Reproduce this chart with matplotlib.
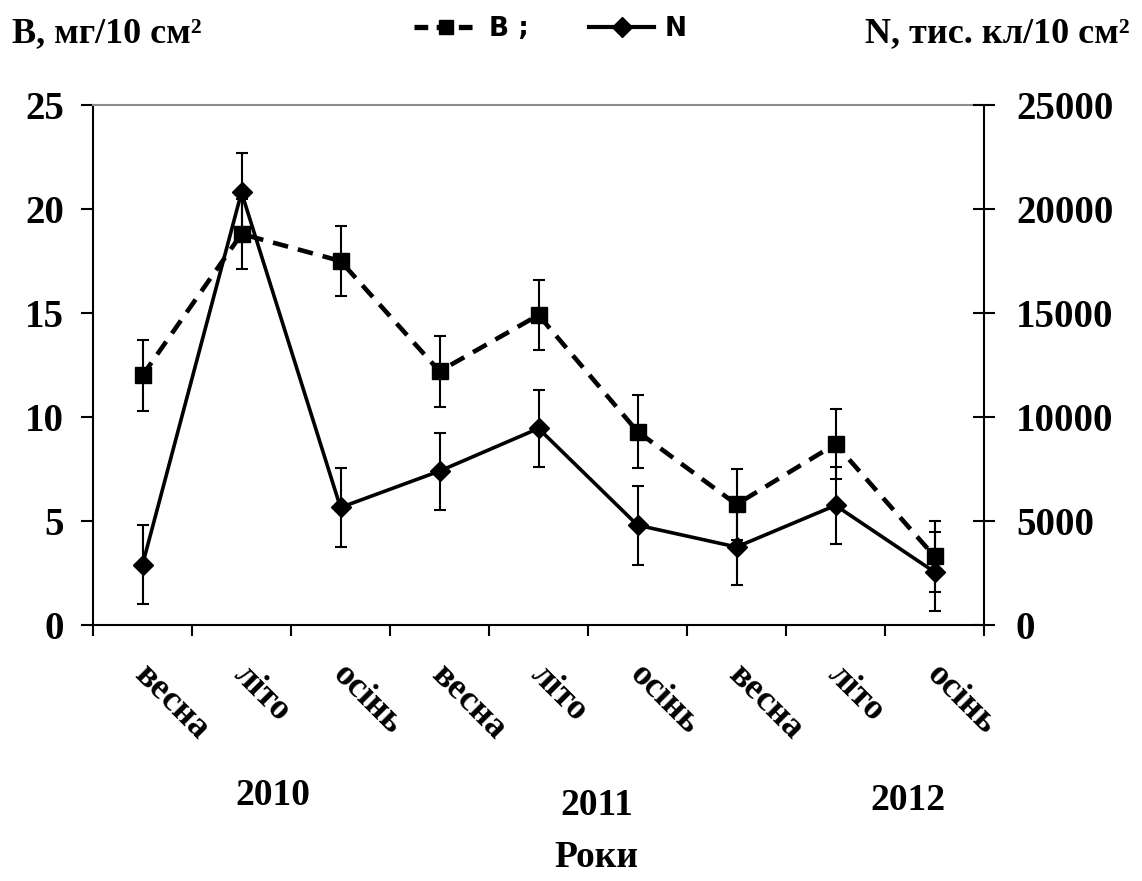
import matplotlib
matplotlib.use("Agg")
import matplotlib.pyplot as plt
import matplotlib.transforms as mtransforms
import numpy as np

seasons = ["весна", "літо", "осінь", "весна", "літо", "осінь", "весна", "літо", "осінь"]
years = ["2010", "2011", "2012"]

# biomass, mg/10 cm2
biomass = [12.0, 18.8, 17.5, 12.2, 14.9, 9.3, 5.8, 8.7, 3.3]
biomass_err = [1.7, 1.7, 1.7, 1.7, 1.7, 1.75, 1.7, 1.7, 1.7]

# abundance, thousand cells/10 cm2
abundance = [2900, 20800, 5650, 7400, 9450, 4800, 3750, 5750, 2550]
abundance_err = [1900, 1900, 1900, 1850, 1850, 1900, 1850, 1850, 1900]

SERIF = "Liberation Serif"
W, H = 1142, 881


def px(x, y):
    return x / W, 1 - y / H


def main():
    fig = plt.figure(figsize=(W / 100, H / 100), dpi=100)
    left, top = px(93, 105)
    right, bottom = px(984, 625)
    ax = fig.add_axes([left, bottom, right - left, top - bottom])
    ax2 = ax.twinx()

    x = np.arange(len(seasons))

    ax.errorbar(x, biomass, yerr=biomass_err, fmt="none", ecolor="black",
                elinewidth=1.5, capsize=4, capthick=1.5, zorder=2)
    ax.plot(x, biomass, color="black", lw=3.3, ls=(0, (3.4, 2.2)),
            marker="s", ms=11, zorder=3)

    ax2.errorbar(x, abundance, yerr=abundance_err, fmt="none", ecolor="black",
                 elinewidth=1.5, capsize=4, capthick=1.5, zorder=2)
    ax2.plot(x, abundance, color="black", lw=2.6, marker="D", ms=10, zorder=3)

    ax.set_xlim(-0.5, 8.5)
    ax.set_ylim(0, 25)
    ax2.set_ylim(0, 25000)
    ax.set_yticks(np.arange(0, 26, 5))
    ax2.set_yticks(np.arange(0, 25001, 5000))

    # boundary ticks between categories; season names hang below the centres
    ax.set_xticks(np.arange(-0.5, 9.0, 1.0))
    ax.set_xticklabels([])
    ax.tick_params(axis="x", direction="out", length=8, width=1.5)
    shift = mtransforms.ScaledTranslation(6 / 72, -24 / 72, fig.dpi_scale_trans)
    for xi, name in zip(x, seasons):
        ax.text(xi, 0, name, transform=ax.get_xaxis_transform() + shift,
                rotation=-45, rotation_mode="anchor", ha="left", va="top",
                family=SERIF, weight="bold", fontsize=26)

    ax.tick_params(axis="y", direction="out", length=9, width=1.5, pad=12,
                   labelsize=28)
    ax2.tick_params(axis="y", direction="inout", length=16, width=1.5,
                    pad=15, labelsize=28)
    for lab in ax.get_yticklabels() + ax2.get_yticklabels():
        lab.set_fontfamily(SERIF)
        lab.set_fontweight("bold")

    for s in ["left", "bottom"]:
        ax.spines[s].set_linewidth(1.5)
    ax.spines["right"].set_visible(False)
    ax.spines["top"].set_color("#8c8c8c")
    ax.spines["top"].set_linewidth(1.5)
    for s in ["left", "bottom", "top"]:
        ax2.spines[s].set_visible(False)
    ax2.spines["right"].set_linewidth(1.5)

    # legend handles share styles with the plotted series
    b_handle = plt.Line2D([], [], color="black", lw=3.8, ls=(0, (2.6, 1.6)),
                          marker="s", ms=10)
    n_handle = plt.Line2D([], [], color="black", lw=3.0, marker="D", ms=10)
    fig.legend([b_handle, n_handle], ["B ;", "N"], ncol=2, frameon=False,
               loc="center", bbox_to_anchor=px(550, 29), numpoints=1,
               handlelength=2.45, handletextpad=0.4, columnspacing=2.3,
               prop={"family": "DejaVu Sans", "weight": "bold", "size": 19})

    fig.text(*px(12, 42), "B, мг/10 см²", ha="left", va="baseline",
             family=SERIF, weight="bold", fontsize=26)
    fig.text(*px(1130, 42), "N, тис. кл/10 см²", ha="right", va="baseline",
             family=SERIF, weight="bold", fontsize=26)

    for year, (xp, yp) in zip(years, [(273, 805), (597, 815), (908, 810)]):
        fig.text(*px(xp, yp), year, ha="center", va="baseline",
                 family=SERIF, weight="bold", fontsize=27)
    fig.text(*px(596, 867), "Роки", ha="center", va="baseline",
             family=SERIF, weight="bold", fontsize=27)

    fig.savefig("out.png", dpi=100)
    plt.close(fig)


if __name__ == "__main__":
    main()
